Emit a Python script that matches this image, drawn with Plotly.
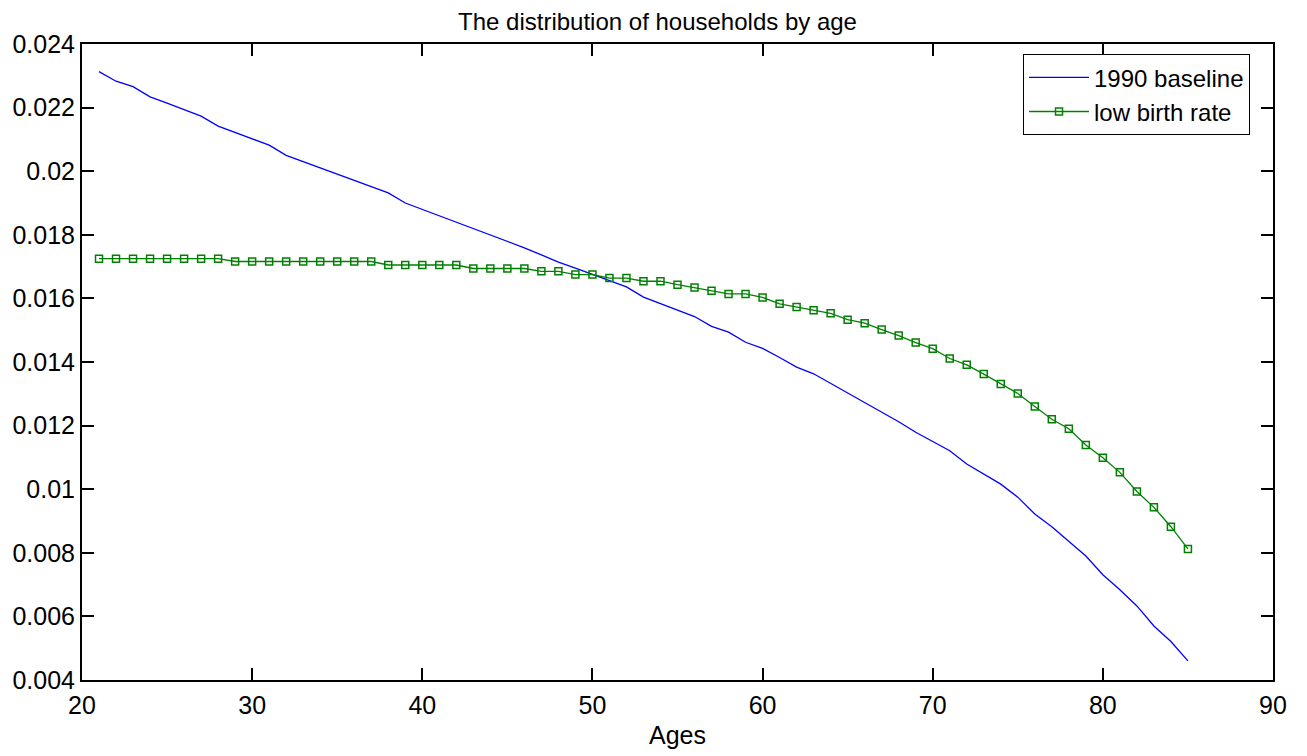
import plotly.graph_objects as go

ages = [21, 22, 23, 24, 25, 26, 27, 28, 29, 30, 31, 32, 33, 34, 35, 36, 37, 38, 39, 40,
        41, 42, 43, 44, 45, 46, 47, 48, 49, 50, 51, 52, 53, 54, 55, 56, 57, 58, 59, 60,
        61, 62, 63, 64, 65, 66, 67, 68, 69, 70, 71, 72, 73, 74, 75, 76, 77, 78, 79, 80,
        81, 82, 83, 84, 85]

baseline_1990 = [0.02313, 0.02283, 0.02266, 0.02234, 0.02214, 0.02194, 0.02173, 0.02142,
                 0.02122, 0.02102, 0.02082, 0.02050, 0.02030, 0.02011, 0.01991, 0.01971,
                 0.01952, 0.01932, 0.01900, 0.01880, 0.01860, 0.01840, 0.01820, 0.01800,
                 0.01778, 0.01759, 0.01737, 0.01714, 0.01695, 0.01675, 0.01656, 0.01636,
                 0.01604, 0.01584, 0.01564, 0.01543, 0.01512, 0.01494, 0.01462, 0.01443,
                 0.01414, 0.01384, 0.01363, 0.01333, 0.01303, 0.01273, 0.01243, 0.01212,
                 0.01179, 0.01150, 0.01121, 0.01079, 0.01048, 0.01016, 0.00975, 0.00922,
                 0.00882, 0.00836, 0.00790, 0.00731, 0.00684, 0.00633, 0.00570, 0.00521,
                 0.00460]

low_birth_rate = [0.01725, 0.01725, 0.01725, 0.01725, 0.01725, 0.01725, 0.01725, 0.01725,
                  0.01716, 0.01716, 0.01716, 0.01716, 0.01716, 0.01716, 0.01716, 0.01716,
                  0.01716, 0.01705, 0.01705, 0.01705, 0.01705, 0.01705, 0.01694, 0.01694,
                  0.01694, 0.01694, 0.01685, 0.01685, 0.01675, 0.01675, 0.01664, 0.01664,
                  0.01654, 0.01654, 0.01643, 0.01634, 0.01624, 0.01614, 0.01614, 0.01603,
                  0.01583, 0.01573, 0.01563, 0.01553, 0.01533, 0.01522, 0.01502, 0.01483,
                  0.01461, 0.01442, 0.01411, 0.01391, 0.01362, 0.01331, 0.01301, 0.01260,
                  0.01220, 0.01190, 0.01139, 0.01099, 0.01053, 0.00993, 0.00943, 0.00882,
                  0.00812]

x_ticks = [20, 30, 40, 50, 60, 70, 80, 90]
y_ticks = [0.004, 0.006, 0.008, 0.010, 0.012, 0.014, 0.016, 0.018, 0.020, 0.022, 0.024]
y_tick_labels = ["0.004", "0.006", "0.008", "0.01", "0.012", "0.014", "0.016",
                 "0.018", "0.02", "0.022", "0.024"]

FONT = "Liberation Sans, Arial, sans-serif"
FS = 25

fig = go.Figure()
fig.add_trace(go.Scatter(
    x=ages, y=baseline_1990, mode="lines", name="1990 baseline",
    line=dict(color="#0000FF", width=1.3),
))
fig.add_trace(go.Scatter(
    x=ages, y=low_birth_rate, mode="lines+markers", name="low birth rate",
    line=dict(color="#008000", width=1.3),
    marker=dict(symbol="square-open", size=7, color="#008000", line=dict(width=1.5)),
))

axis_common = dict(
    showgrid=False, zeroline=False, showline=True, linecolor="black", linewidth=2,
    mirror="ticks", ticks="inside", ticklen=12, tickwidth=1.5, tickcolor="black",
    tickfont=dict(family=FONT, size=FS, color="black"), automargin=False,
)

# page body has an 8px default margin, so figure is 8px smaller and margins shifted
fig.update_layout(
    width=1299, height=748,
    margin=dict(l=74, r=34, t=36, b=76),
    paper_bgcolor="white", plot_bgcolor="white",
    font=dict(family=FONT, size=FS, color="black"),
    title=dict(text="The distribution of households by age", x=0.5, xanchor="center",
               y=0.993, yanchor="top", font=dict(family=FONT, size=FS - 1, color="black")),
    xaxis=dict(range=[20, 90], tickvals=x_ticks, ticktext=[str(v) for v in x_ticks],
               ticklabelstandoff=2,
               title=dict(text="Ages", font=dict(family=FONT, size=FS), standoff=8),
               **axis_common),
    yaxis=dict(range=[0.004, 0.024], tickvals=y_ticks, ticktext=y_tick_labels,
               **axis_common),
    legend=dict(x=0.9807, xanchor="right", y=0.984, yanchor="top",
                bordercolor="black", borderwidth=1, bgcolor="white",
                font=dict(family=FONT, size=FS - 1, color="black"),
                tracegroupgap=0, itemwidth=60),
    showlegend=True,
)

fig.write_html("out.html")
